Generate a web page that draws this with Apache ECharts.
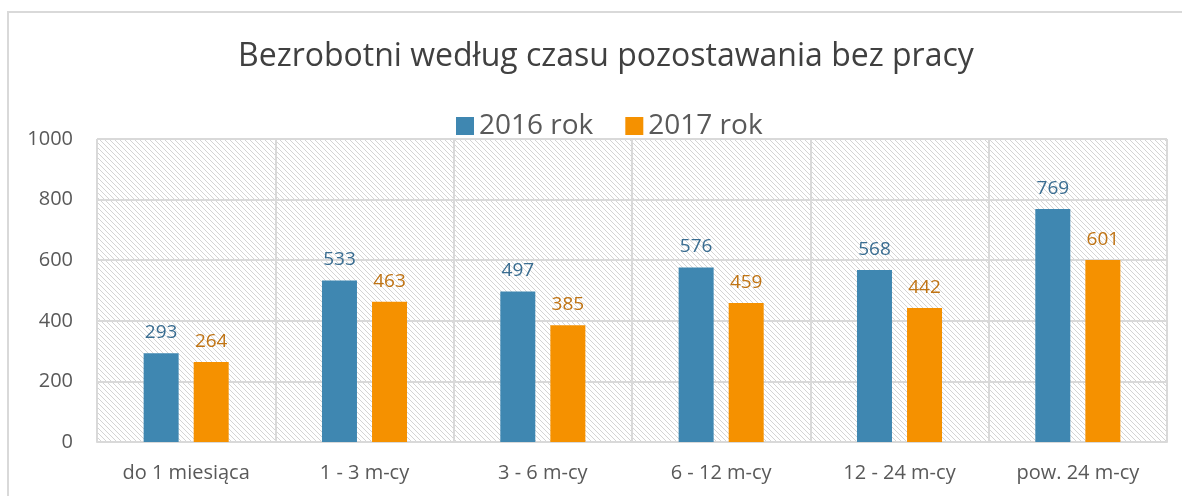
<!DOCTYPE html>
<html>
<head>
<meta charset="utf-8">
<script src="https://cdn.jsdelivr.net/npm/echarts@6/dist/echarts.min.js"></script>
<style>
  html, body { margin: 0; padding: 0; background: #fff; }
  #wrap { position: relative; width: 1182px; height: 496px; overflow: hidden; }
  #frame { position: absolute; left: 7px; top: 11px; width: 1200px; height: 520px; border: 2px solid #d9d9d9; box-sizing: border-box; }
  #main { position: absolute; left: 0; top: 0; width: 1182px; height: 496px; }
</style>
</head>
<body>
<div id="wrap">
  <div id="frame"></div>
  <div id="main"></div>
</div>
<script>
  // dane
  var categories = ['do 1 miesiąca', '1 - 3 m-cy', '3 - 6 m-cy', '6 - 12 m-cy', '12 - 24 m-cy', 'pow. 24 m-cy'];
  var values2016 = [293, 533, 497, 576, 568, 769];
  var values2017 = [264, 463, 385, 459, 442, 601];
  var yTicks = [0, 200, 400, 600, 800, 1000];

  // tło z ukośnym kreskowaniem
  var tile = document.createElement('canvas');
  tile.width = 5; tile.height = 5;
  var ctx = tile.getContext('2d');
  ctx.fillStyle = '#ffffff';
  ctx.fillRect(0, 0, 5, 5);
  ctx.strokeStyle = '#d4d4d4';
  ctx.lineWidth = 1;
  ctx.beginPath();
  ctx.moveTo(-1, -1); ctx.lineTo(6, 6);
  ctx.moveTo(-1, 4); ctx.lineTo(1, 6);
  ctx.moveTo(4, -1); ctx.lineTo(6, 1);
  ctx.stroke();

  var font = '"Open Sans", "Noto Sans", sans-serif';

  var chart = echarts.init(document.getElementById('main'));
  var option = {
    animation: false,
    title: {
      text: 'Bezrobotni według czasu pozostawania bez pracy',
      left: 233,
      top: 36,
      textStyle: { fontFamily: font, fontSize: 32, fontWeight: 'normal', color: '#404040' }
    },
    legend: {
      top: 107,
      left: 451,
      itemWidth: 18,
      itemHeight: 18,
      itemGap: 32,
      icon: 'rect',
      textStyle: { fontFamily: font, fontSize: 28, color: '#595959' },
      data: ['2016 rok', '2017 rok']
    },
    grid: {
      left: 97,
      right: 15,
      top: 139,
      bottom: 54,
      show: true,
      borderWidth: 0,
      backgroundColor: { image: tile, repeat: 'repeat' }
    },
    xAxis: {
      type: 'category',
      data: categories,
      axisLine: { lineStyle: { color: '#d9d9d9', width: 2 } },
      axisTick: { show: false },
      splitLine: { show: true, lineStyle: { color: '#d9d9d9', width: 2 } },
      axisLabel: { fontFamily: font, fontSize: 20, color: '#595959', margin: 21 }
    },
    yAxis: {
      type: 'value',
      min: yTicks[0],
      max: yTicks[yTicks.length - 1],
      interval: 200,
      axisLine: { show: false },
      axisTick: { show: false },
      splitLine: { lineStyle: { color: '#d9d9d9', width: 2 } },
      axisLabel: { fontFamily: font, fontSize: 20, color: '#595959', margin: 24, formatter: function (v) { return String(v); } }
    },
    series: [
      {
        name: '2016 rok',
        type: 'bar',
        data: values2016,
        barWidth: 35,
        barGap: '43%',
        itemStyle: { color: '#3f87b1' },
        label: { show: true, position: 'top', distance: 11, fontFamily: font, fontSize: 19, color: '#3a6d91' }
      },
      {
        name: '2017 rok',
        type: 'bar',
        data: values2017,
        barWidth: 35,
        itemStyle: { color: '#f59100' },
        label: { show: true, position: 'top', distance: 11, fontFamily: font, fontSize: 19, color: '#c07414' }
      }
    ]
  };
  chart.setOption(option);
</script>
</body>
</html>
